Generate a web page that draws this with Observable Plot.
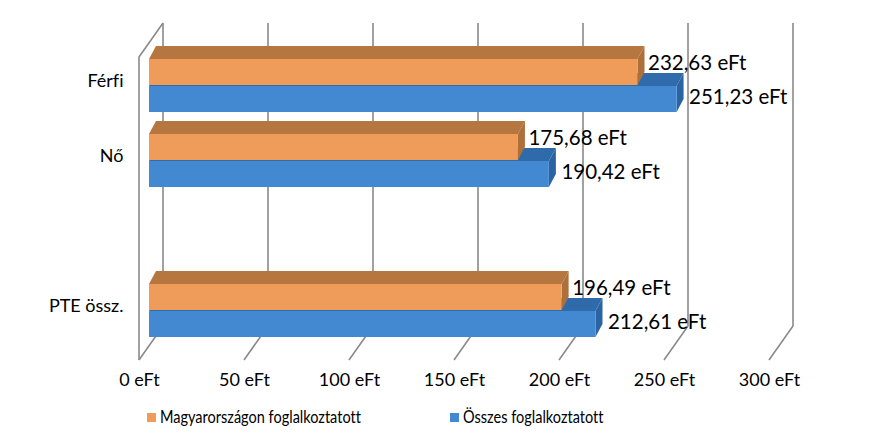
<!DOCTYPE html>
<html>
<head>
<meta charset="utf-8">
<script src="https://cdn.jsdelivr.net/npm/d3@7"></script>
<script src="https://cdn.jsdelivr.net/npm/@observablehq/plot@0.6"></script>
<style>
  html, body { margin: 0; padding: 0; background: #fff; }
  #chart { width: 879px; height: 434px; position: relative; font-family: Lato, "Open Sans", sans-serif; font-variant-ligatures: none; }
  #chart svg text { font-variant-ligatures: none; }
  #legend { position: absolute; left: 147px; top: 405px; height: 24px; display: flex; align-items: center; font-size: 16.5px; color: #000; }
  .item { display: flex; align-items: center; }
  .sw { width: 9px; height: 9px; margin-right: 4px; flex: none; }
  .lab { display: inline-block; transform: scaleX(0.88); transform-origin: left center; white-space: nowrap; }
</style>
</head>
<body>
<div id="chart"></div>
<script>
const categories = ["Férfi", "Nő", " ", "PTE össz."];
const seriesNames = ["Magyarországon foglalkoztatott", "Összes foglalkoztatott"];
const hungaryValues = [232.63, 175.68, null, 196.49];
const totalValues = [251.23, 190.42, null, 212.61];
const xTicks = [0, 50, 100, 150, 200, 250, 300];

const colors = {
  front: ["#EF9B59", "#4389D2"],
  top: ["#B5763F", "#2F6AAB"],
  side: ["#AE703B", "#2B64A3"]
};

const rows = [];
categories.forEach((c, i) => {
  if (hungaryValues[i] != null) rows.push({cat: c, series: 0, value: hungaryValues[i]});
  if (totalValues[i] != null) rows.push({cat: c, series: 1, value: totalValues[i]});
});

const yRange = [58, 339], padIn = 0.287;
const step = (yRange[1] - yRange[0]) / (categories.length - padIn);
const half = step * (1 - padIn) / 2;
const DX = 7, DY = -13;            // bar depth
const BACK = 14, FRONT = -10, DEPTH = 34; // wall/floor offsets
const fmt = v => v.toFixed(2).replace(".", ",") + " eFt";

function bar3d(s) {
  return Plot.barX(rows.filter(d => d.series === s), {
    x: "value", y: "cat", fill: colors.front[s],
    insetTop: s === 1 ? half : 0, insetBottom: s === 0 ? half : 0,
    render(index, scales, values, dims, ctx, next) {
      const g = next(index, scales, values, dims, ctx);
      for (const r of Array.from(g.querySelectorAll("rect"))) {
        const x = +r.getAttribute("x"), y = +r.getAttribute("y");
        const w = +r.getAttribute("width"), h = +r.getAttribute("height");
        const mk = (pts, f) => {
          const p = document.createElementNS("http://www.w3.org/2000/svg", "polygon");
          p.setAttribute("points", pts.map(q => q.join(",")).join(" "));
          p.setAttribute("fill", f);
          g.insertBefore(p, r);
        };
        mk([[x, y], [x + DX, y + DY], [x + w + DX, y + DY], [x + w, y]], colors.top[s]);
        mk([[x + w, y], [x + w + DX, y + DY], [x + w + DX, y + h + DY], [x + w, y + h]], colors.side[s]);
      }
      return g;
    }
  });
}

const grid = Plot.ruleX(xTicks, {
  x: d => d,
  render(index, scales, values, dims) {
    const T = dims.marginTop, B = dims.height - dims.marginBottom;
    const g = d3.create("svg:g").attr("stroke", "#8a8a8a").attr("stroke-width", 1.6).attr("fill", "none");
    for (const i of index) {
      const bx = values.x[i] + BACK, fx = values.x[i] + FRONT;
      g.append("path").attr("d", `M${bx},${T}V${B}L${fx},${B + DEPTH}`);
      if (xTicks[i] === 0) g.append("path").attr("d", `M${bx},${T}L${fx},${T + DEPTH}V${B + DEPTH}`);
    }
    return g.node();
  }
});

const plot = Plot.plot({
  width: 879, height: 400,
  marginTop: 23, marginBottom: 74, marginLeft: 130, marginRight: 60,
  style: {fontFamily: "Lato, 'Open Sans', sans-serif", color: "#000", background: "#fff"},
  x: {domain: [0, 300], range: [149, 779], axis: null},
  y: {type: "band", domain: categories, range: yRange, paddingInner: padIn, paddingOuter: 0, align: 0.5, axis: null},
  marks: [
    grid,
    bar3d(1),
    bar3d(0),
    Plot.axisY({tickSize: 0, tickPadding: 7, dy: -5, fontSize: 18, fill: "#000", label: null}),
    Plot.text(xTicks, {x: d => d, text: d => `${d} eFt`, frameAnchor: "bottom", dy: 59, dx: -10, fontSize: 18, fill: "#000"}),
    Plot.text(rows.filter(d => d.series === 0), {x: "value", y: "cat", text: d => fmt(d.value), textAnchor: "start", dx: 10, dy: -22.5, fontSize: 20.5, fill: "#000"}),
    Plot.text(rows.filter(d => d.series === 1), {x: "value", y: "cat", text: d => fmt(d.value), textAnchor: "start", dx: 12, dy: 11, fontSize: 20.5, fill: "#000"})
  ]
});

const chart = document.getElementById("chart");
chart.appendChild(plot);
const legend = document.createElement("div");
legend.id = "legend";
seriesNames.forEach((n, s) => {
  const it = document.createElement("div");
  it.className = "item";
  if (s === 0) it.style.width = "303px";
  it.innerHTML = `<span class="sw" style="background:${colors.front[s]}"></span><span class="lab">${n}</span>`;
  legend.appendChild(it);
});
chart.appendChild(legend);
</script>
</body>
</html>
